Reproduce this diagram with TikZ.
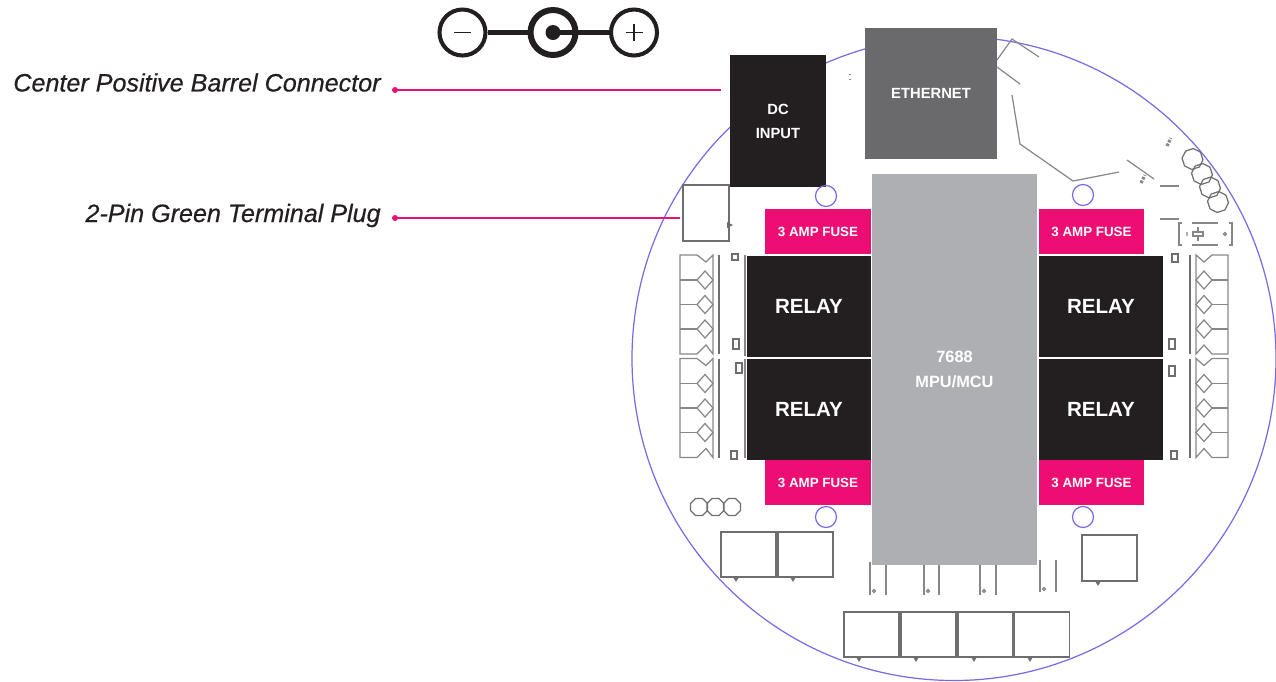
\documentclass[tikz,border=0pt]{standalone}
\usepackage{fontspec}
\setmainfont{Liberation Sans}
\newfontfamily\calloutfont[FakeBold=0.5]{Liberation Sans}
\usetikzlibrary{shapes.geometric}
\definecolor{ink}{RGB}{35,31,32}
\definecolor{hotpink}{RGB}{237,14,115}
\definecolor{chipgrey}{RGB}{174,175,178}
\definecolor{netgrey}{RGB}{106,106,108}
\definecolor{ringblue}{RGB}{125,105,230}
\definecolor{partgrey}{RGB}{110,110,110}
\definecolor{tracegrey}{RGB}{135,135,135}
\tikzset{
  block/.style={inner sep=0pt, align=center, font=\bfseries, text=white},
  relaybox/.style={block, fill=ink, minimum height=2.02cm, font=\bfseries\fontsize{11.7}{15}\selectfont},
  fusebox/.style={block, fill=hotpink, minimum width=2.11cm, minimum height=0.9cm, font=\bfseries\fontsize{7.6}{9}\selectfont},
  callout/.style={anchor=east, inner sep=0pt, text=ink, font=\calloutfont\itshape\fontsize{14.3}{16}\selectfont},
  leader/.style={line width=1.1pt, draw=hotpink},
  ring/.style={circle, draw=ringblue, line width=0.7pt, inner sep=0pt, minimum size=0.42cm},
  partbox/.style={draw=partgrey, line width=0.8pt, inner sep=0pt, minimum width=1.1cm, minimum height=0.9cm},
  octa/.style={regular polygon, regular polygon sides=8, draw=partgrey, line width=0.7pt, inner sep=0pt, minimum size=0.37cm},
  trace/.style={draw=tracegrey, line width=0.7pt},
  pinmark/.style={fill=partgrey},
  jack/.style={circle, draw=ink, inner sep=0pt},
}
\begin{document}
\begin{tikzpicture}[x=0.02cm, y=-0.02cm]
\useasboundingbox (0,0) rectangle (1276,681);
% --- board outline ---
\draw[draw=ringblue, line width=0.7pt] (954,358.5) circle (322);
% --- barrel connector symbol ---
\node[jack, line width=2.3pt, minimum size=0.92cm] (minus) at (462.5,32.5) {};
\node[jack, line width=3.4pt, minimum size=0.9cm] (barrel) at (553,32.5) {};
\node[jack, line width=2.3pt, minimum size=0.92cm] (plus) at (634,32.5) {};
\node[circle, fill=ink, inner sep=0pt, minimum size=0.3cm] (pin) at (553,32.5) {};
\draw[ink, line width=2.5pt] (minus) -- (barrel);
\draw[ink, line width=2.5pt] (pin.center) -- (plus);
\draw[ink, line width=0.85pt] (454,32.5) -- (471,32.5);
\draw[ink, line width=0.85pt] (625.5,32.5) -- (642.5,32.5) (634,24) -- (634,41);
% --- callouts ---
\node[callout] (barreltext) at (381,82.5) {Center Positive Barrel Connector};
\node[callout] (plugtext) at (381,215.5) {2-Pin Green Terminal Plug};
\coordinate (barreldot) at (395,90);
\coordinate (barrelend) at (721,90);
\coordinate (plugdot) at (395,218);
\coordinate (plugend) at (680,218);
\draw[leader] (barreldot) -- (barrelend);
\draw[leader] (plugdot) -- (plugend);
\fill[hotpink] (barreldot) circle (3);
\fill[hotpink] (plugdot) circle (3);
% --- large blocks ---
\node[block, fill=ink, minimum width=1.92cm, minimum height=2.64cm, font=\bfseries\fontsize{8.4}{13.6}\selectfont] (dcinput) at (778,121) {DC\\INPUT};
\node[block, fill=netgrey, minimum width=2.64cm, minimum height=2.64cm, font=\bfseries\fontsize{8.4}{10}\selectfont] (ethernet) at (931,93.5) {ETHERNET};
\node[block, fill=chipgrey, minimum width=3.3cm, minimum height=7.82cm, font=\bfseries\fontsize{9.3}{13.8}\selectfont] (mcu) at (954.5,369.5) {7688\\MPU/MCU};
% --- fuses and relays ---
\node[fusebox] (fusenw) at (818,231.5) {3 AMP FUSE};
\node[fusebox] (fusene) at (1091.5,231.5) {3 AMP FUSE};
\node[fusebox] (fusesw) at (818,482.5) {3 AMP FUSE};
\node[fusebox] (fusese) at (1091.5,482.5) {3 AMP FUSE};
\node[relaybox, minimum width=2.48cm] (relaynw) at (809,306) {RELAY};
\node[relaybox, minimum width=2.48cm] (relaysw) at (809,409) {RELAY};
\node[relaybox, minimum width=2.5cm] (relayne) at (1101,306) {RELAY};
\node[relaybox, minimum width=2.5cm] (relayse) at (1101,409) {RELAY};
\draw[trace] (745,255) -- (745,356) (745,359) -- (745,458);
% --- mounting rings ---
\node[ring] (ringnw) at (826,196) {};
\node[ring] (ringne) at (1083,195) {};
\node[ring] (ringsw) at (826,517) {};
\node[ring] (ringse) at (1083,517) {};
% --- terminal blocks, left side ---
\foreach \dy in {0,103.5}{
  \begin{scope}[yshift=-\dy*0.02cm]
  \draw[trace] (713,255) -- (706,262) -- (697,255) -- (680,255) -- (680,354) -- (697,354) -- (706,345) -- (713,354) -- cycle;
  \foreach \y in {280,304.5,329}{
    \draw[trace] (680,\y) -- (697,\y);
    \draw[trace, fill=white] (697,\y) -- (705,\y-9) -- (713,\y) -- (705,\y+9) -- cycle;
  }
  \draw[partgrey, line width=1.6pt] (719,255) -- (719,354);
  \end{scope}
}
% --- terminal blocks, right side ---
\foreach \dy in {0,103.5}{
  \begin{scope}[yshift=-\dy*0.02cm]
  \draw[trace] (1196,255) -- (1204,262) -- (1212,255) -- (1228,255) -- (1228,354) -- (1212,354) -- (1204,345) -- (1196,354) -- cycle;
  \foreach \y in {280,304.5,329}{
    \draw[trace] (1228,\y) -- (1212,\y);
    \draw[trace, fill=white] (1212,\y) -- (1204,\y-9) -- (1196,\y) -- (1204,\y+9) -- cycle;
  }
  \draw[partgrey, line width=1.6pt] (1190,255) -- (1190,354);
  \end{scope}
}
% --- tiny parts beside the relays ---
\draw[partgrey, line width=0.8pt] (732,254) rectangle (738,260) (733,339) rectangle (739,349) (736,363) rectangle (742,373) (731,451) rectangle (737,459);
\draw[partgrey, line width=0.8pt] (1172,254) rectangle (1178,262) (1169,339) rectangle (1175,349) (1169,366) rectangle (1175,376) (1171,451) rectangle (1177,459);
% --- terminal plug and square parts ---
\node[partbox, minimum width=0.92cm, minimum height=1.12cm] (plug) at (706,213) {};
\fill[pinmark] (727,222) -- (733,225) -- (727,228) -- cycle;
\node[octa] (ledone) at (699,507) {};
\node[octa] (ledtwo) at (715.5,507) {};
\node[octa] (ledthree) at (732,507) {};
\node[partbox] (swa) at (748.5,554.5) {};
\node[partbox] (swb) at (805.5,554.5) {};
\node[partbox, minimum height=0.92cm] (swc) at (1109.5,558) {};
\node[partbox] (btna) at (871.5,634.5) {};
\node[partbox] (btnb) at (928.5,634.5) {};
\node[partbox] (btnc) at (985.5,634.5) {};
\node[partbox] (btnd) at (1042,634.5) {};
\foreach \x/\y in {736/577, 793/577, 1098/581, 859/657, 916/657, 974/657, 1030/657}{
  \fill[pinmark] (\x-3.5,\y-1) -- (\x+3.5,\y-1) -- (\x,\y+5) -- cycle;
}
% --- pin pairs under the chip ---
\draw[trace] (870,562) -- (870,595) (886,565) -- (886,595);
\draw[trace] (924,565) -- (924,595) (939,565) -- (939,595);
\draw[trace] (980,565) -- (980,595) (996,565) -- (996,595);
\draw[trace] (1040,560) -- (1040,592) (1056,560) -- (1056,592);
\foreach \x/\y in {874/591, 928/591, 984/591, 1044/589}{
  \draw[trace] (\x,\y) circle (1.6);
}
% --- traces, upper right ---
\draw[trace] (997,60) -- (1012,39) -- (1039,57);
\draw[trace] (997,67) -- (1020,84);
\draw[trace] (1012,95) -- (1020,144) -- (1073,181) -- (1119,172);
\draw[trace] (1127,160) -- (1154,179);
\draw[trace] (1160,186) -- (1179,186);
\draw[trace] (1160,219) -- (1179,219);
\draw[tracegrey, line width=1.8pt, dash pattern=on 1.5pt off 0.8pt] (1167,146) -- (1171,138) (1141,183) -- (1145,175);
\draw[trace, dotted] (850,74) -- (850,80);
\node[octa, minimum size=0.42cm, regular polygon rotate=18] (ledfour) at (1192.5,159) {};
\node[octa, minimum size=0.42cm, regular polygon rotate=18] (ledfive) at (1202,174) {};
\node[octa, minimum size=0.42cm, regular polygon rotate=18] (ledsix) at (1210,187.5) {};
\node[octa, minimum size=0.42cm, regular polygon rotate=18] (ledseven) at (1218,202) {};
% --- crystal footprint ---
\draw[trace] (1182,223) -- (1179,223) -- (1179,245) -- (1182,245);
\draw[trace] (1229,223) -- (1232,223) -- (1232,245) -- (1229,245);
\draw[tracegrey, line width=1.2pt] (1192,223) -- (1218,223) (1192,245) -- (1218,245);
\draw[trace] (1193,232) rectangle (1203,236) (1198,227) -- (1198,232) (1198,236) -- (1198,241);
\draw[trace] (1225,234) circle (1.6) (1187,232) -- (1187,236);
\end{tikzpicture}
\end{document}
